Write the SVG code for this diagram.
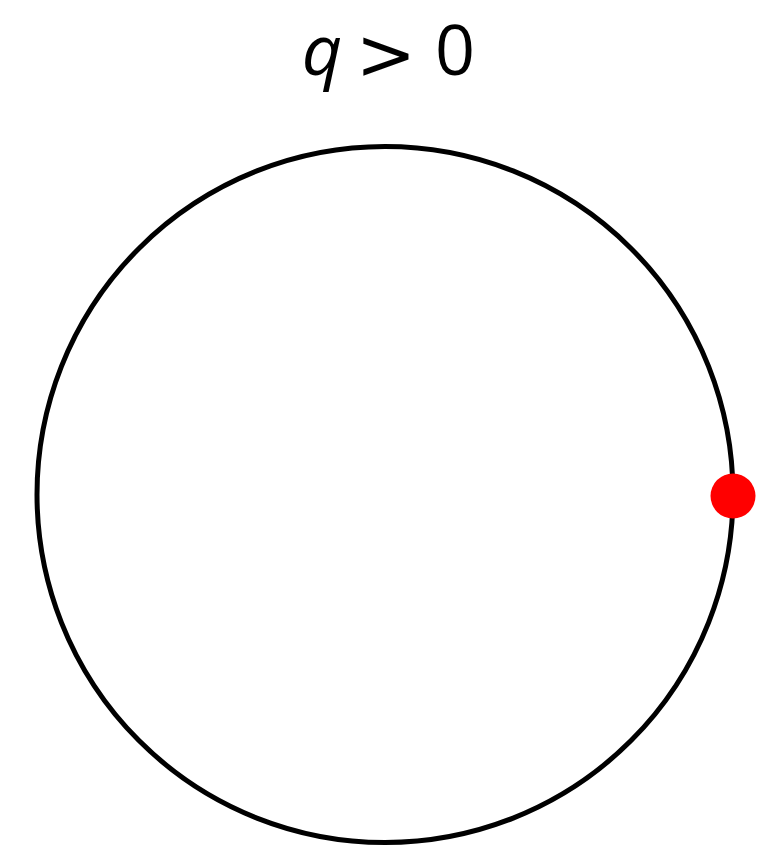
<svg xmlns="http://www.w3.org/2000/svg" width="769" height="850" viewBox="0 0 769 850">
<style>
.title{font-family:"Open Sans","Noto Sans",sans-serif;font-size:70px;fill:#000}
.rel{font-family:"DejaVu Sans",sans-serif;font-size:72px;fill:#000}
.ring{fill:none;stroke:#000;stroke-width:5}
.dot{fill:#ff0000}
</style>
<rect width="769" height="850" fill="#fff"/>
<g id="title">
<text class="title" x="322" y="75" text-anchor="middle" font-style="italic">q</text>
<text class="rel" x="386" y="79" text-anchor="middle">&gt;</text>
<text class="title" x="455" y="75" text-anchor="middle">0</text>
</g>
<g id="ring"><circle class="ring" cx="385" cy="494.5" r="348"/></g>
<g id="point"><circle class="dot" cx="733" cy="496" r="22.5"/></g>
<g id="connectors"/>
</svg>
